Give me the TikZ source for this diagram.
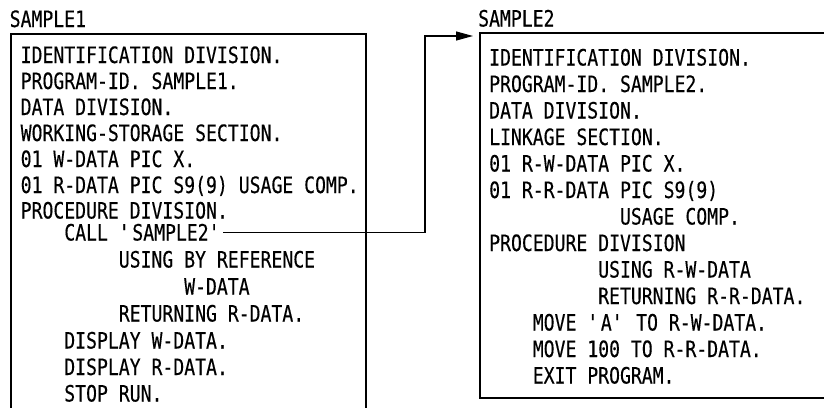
\documentclass[tikz,border=0pt]{standalone}
\usepackage{fontspec}
\usetikzlibrary{arrows.meta,calc}
\newfontfamily\codefont[FakeStretch=0.805,FakeBold=0.3]{DejaVu Sans Mono}
\tikzset{
  codeline/.style={anchor=base west, inner sep=0pt, font=\codefont\fontsize{22.5}{22.5}\selectfont},
  frame/.style={draw, line width=1.6pt, inner sep=0pt, anchor=north west},
  conn/.style={line width=1.2pt, -{Triangle[length=17pt,width=9pt]}}
}
\newcommand{\q}{\textquotesingle}
\begin{document}
\begin{tikzpicture}[x=1pt,y=-1pt]
\useasboundingbox (0,0) rectangle (824,407);
\clip (0,0) rectangle (824,407);
\fill[white] (0,0) rectangle (824,407);
% frames
\node[frame, minimum width=355pt, minimum height=420pt] (box1) at (10,33) {};
\node[frame, minimum width=400pt, minimum height=365pt] (box2) at (479,32) {};
% labels
\node[codeline] (lab1) at (9.5,27) {SAMPLE1};
\node[codeline] (lab2) at (478,26.5) {SAMPLE2};
% left program
\def\lx{20.5}\def\cw{10.9}
\node[codeline] (l1) at (\lx,63) {IDENTIFICATION DIVISION.};
\node[codeline] (l2) at (\lx,89) {PROGRAM-ID. SAMPLE1.};
\node[codeline] (l3) at (\lx,115) {DATA DIVISION.};
\node[codeline] (l4) at (\lx,141) {WORKING-STORAGE SECTION.};
\node[codeline] (l5) at (\lx,167) {01 W-DATA PIC X.};
\node[codeline] (l6) at (\lx,193) {01 R-DATA PIC S9(9) USAGE COMP.};
\node[codeline] (l7) at (\lx,218.5) {PROCEDURE DIVISION.};
\node[codeline] (call) at (\lx+4*\cw,240.5) {CALL \q SAMPLE2\q};
\node[codeline] (l9) at (\lx+9*\cw,267.5) {USING BY REFERENCE};
\node[codeline] (l10) at (\lx+15*\cw,294.5) {W-DATA};
\node[codeline] (l11) at (\lx+9*\cw,321.5) {RETURNING R-DATA.};
\node[codeline] (l12) at (\lx+4*\cw,348.5) {DISPLAY W-DATA.};
\node[codeline] (l13) at (\lx+4*\cw,375) {DISPLAY R-DATA.};
\node[codeline] (l14) at (\lx+4*\cw,401.5) {STOP RUN.};
% right program
\def\rx{489}
\node[codeline] (r1) at (\rx,65.5) {IDENTIFICATION DIVISION.};
\node[codeline] (r2) at (\rx,92) {PROGRAM-ID. SAMPLE2.};
\node[codeline] (r3) at (\rx,118.5) {DATA DIVISION.};
\node[codeline] (r4) at (\rx,145) {LINKAGE SECTION.};
\node[codeline] (r5) at (\rx,171.5) {01 R-W-DATA PIC X.};
\node[codeline] (r6) at (\rx,198) {01 R-R-DATA PIC S9(9)};
\node[codeline] (r7) at (\rx+12*\cw,224.5) {USAGE COMP.};
\node[codeline] (r8) at (\rx,251) {PROCEDURE DIVISION};
\node[codeline] (r9) at (\rx+10*\cw,277.5) {USING R-W-DATA};
\node[codeline] (r10) at (\rx+10*\cw,304) {RETURNING R-R-DATA.};
\node[codeline] (r11) at (\rx+4*\cw,330.5) {MOVE \q A\q\ TO R-W-DATA.};
\node[codeline] (r12) at (\rx+4*\cw,357) {MOVE 100 TO R-R-DATA.};
\node[codeline] (r13) at (\rx+4*\cw,383.5) {EXIT PROGRAM.};
% connector
\coordinate (cs) at ($(call.base east)+(1,-8)$);
\coordinate (ct) at ($(box2.north west)+(-6,4)$);
\draw[conn] (cs) -- (425,0 |- cs) |- (ct);
\end{tikzpicture}
\end{document}
